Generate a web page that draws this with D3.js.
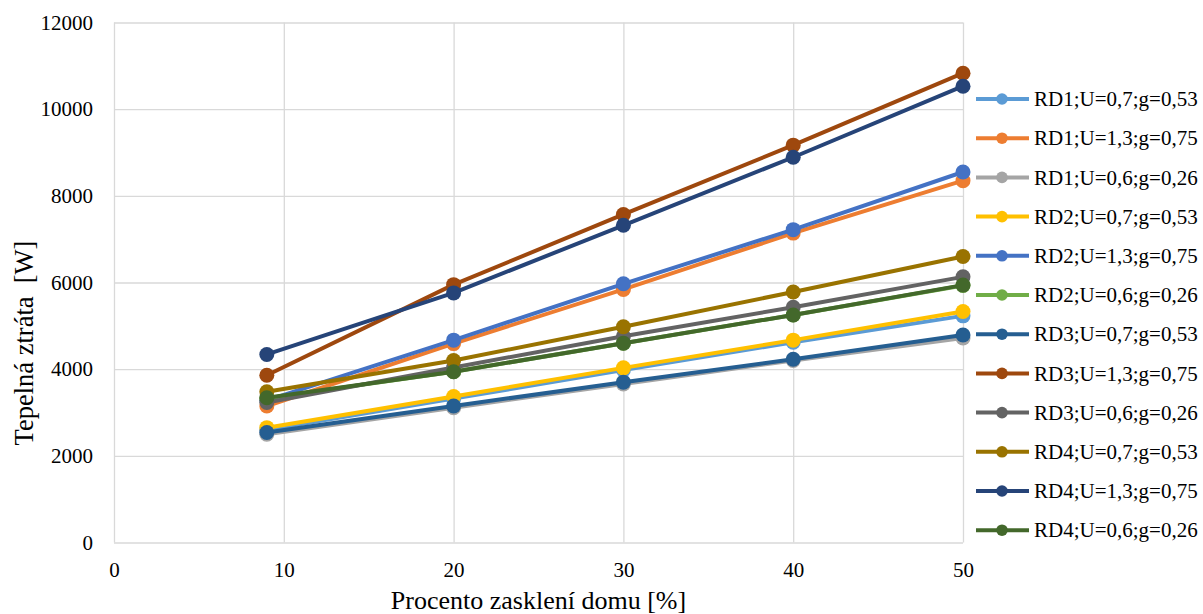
<!DOCTYPE html>
<html>
<head>
<meta charset="utf-8">
<script src="https://cdn.jsdelivr.net/npm/d3@7/dist/d3.min.js"></script>
<style>
  html, body { margin: 0; padding: 0; background: #ffffff; }
  svg { display: block; }
</style>
</head>
<body>
<svg id="chart" width="1203" height="614"></svg>
<script>
// Glazing percentage of the house (x axis)
const glazing = [9, 20, 30, 40, 50];

// Series names, in drawing order
const seriesNames = [
  "RD1;U=0,7;g=0,53", "RD1;U=1,3;g=0,75", "RD1;U=0,6;g=0,26",
  "RD2;U=0,7;g=0,53", "RD2;U=1,3;g=0,75", "RD2;U=0,6;g=0,26",
  "RD3;U=0,7;g=0,53", "RD3;U=1,3;g=0,75", "RD3;U=0,6;g=0,26",
  "RD4;U=0,7;g=0,53", "RD4;U=1,3;g=0,75", "RD4;U=0,6;g=0,26"
];

// Heat loss [W] per series at each glazing level
const rd1_07 = [2600, 3320, 3980, 4620, 5230];
const rd1_13 = [3150, 4590, 5840, 7140, 8350];
const rd1_06 = [2500, 3110, 3660, 4200, 4720];
const rd2_07 = [2650, 3370, 4030, 4670, 5330];
const rd2_13 = [3280, 4670, 5970, 7220, 8550];
const rd2_06 = [3330, 3940, 4600, 5250, 5930];
const rd3_07 = [2540, 3150, 3700, 4230, 4790];
const rd3_13 = [3860, 5950, 7570, 9170, 10830];
const rd3_06 = [3230, 4040, 4760, 5430, 6130];
const rd4_07 = [3480, 4200, 4980, 5780, 6600];
const rd4_13 = [4340, 5760, 7320, 8890, 10530];
const rd4_06 = [3340, 3940, 4600, 5250, 5940];

const seriesValues = [rd1_07, rd1_13, rd1_06, rd2_07, rd2_13, rd2_06,
                      rd3_07, rd3_13, rd3_06, rd4_07, rd4_13, rd4_06];

const seriesColors = [
  "#5B9BD5", "#ED7D31", "#A5A5A5",
  "#FFC000", "#4472C4", "#70AD47",
  "#255E91", "#9E480E", "#636363",
  "#997300", "#264478", "#43682B"
];

const xTicks = [0, 10, 20, 30, 40, 50];
const yTicks = [0, 2000, 4000, 6000, 8000, 10000, 12000];

const xTitle = "Procento zasklení domu [%]";
const yTitle = "Tepelná ztráta  [W]";

// ---- layout ----
const plot = { left: 114, right: 963, top: 22.5, bottom: 542.5 };
const gridColor = "#d9d9d9";
const serif = '"Liberation Serif", "Times New Roman", Times, serif';

const svg = d3.select("#chart");

const x = d3.scaleLinear().domain([0, 50]).range([plot.left, plot.right]);
const y = d3.scaleLinear().domain([0, 12000]).range([plot.bottom, plot.top]);

// y axis with horizontal gridlines
const yAxis = svg.append("g")
  .attr("transform", `translate(${plot.left},0)`)
  .call(d3.axisLeft(y).tickValues(yTicks).tickFormat(d3.format("d"))
    .tickSize(-(plot.right - plot.left)).tickPadding(21));
yAxis.select(".domain").remove();
yAxis.selectAll("line").attr("stroke", gridColor).attr("stroke-width", 1.3);
yAxis.selectAll("text")
  .style("font-family", serif).style("font-size", "21px").attr("fill", "#000");

// x axis with vertical gridlines
const xAxis = svg.append("g")
  .attr("transform", `translate(0,${plot.bottom})`)
  .call(d3.axisBottom(x).tickValues(xTicks).tickFormat(d3.format("d"))
    .tickSize(-(plot.bottom - plot.top)).tickPadding(20));
xAxis.select(".domain").remove();
xAxis.selectAll("line").attr("stroke", gridColor).attr("stroke-width", 1.3);
xAxis.selectAll("text")
  .style("font-family", serif).style("font-size", "21px").attr("fill", "#000");

// axis titles
svg.append("text")
  .attr("x", (plot.left + plot.right) / 2)
  .attr("y", 609)
  .attr("text-anchor", "middle")
  .style("font-family", serif)
  .style("font-size", "26px")
  .attr("fill", "#000")
  .text(xTitle);

svg.append("text")
  .attr("transform", `translate(33,343) rotate(-90)`)
  .attr("text-anchor", "middle")
  .style("font-family", serif)
  .style("font-size", "26.5px")
  .style("white-space", "pre")
  .attr("fill", "#000")
  .text(yTitle);

// ---- series: line then markers, one series at a time ----
const line = d3.line()
  .x((d, i) => x(glazing[i]))
  .y(d => y(d));

seriesValues.forEach((vals, si) => {
  const g = svg.append("g").attr("class", "series");
  g.append("path")
    .datum(vals)
    .attr("d", line)
    .attr("fill", "none")
    .attr("stroke", seriesColors[si])
    .attr("stroke-width", 4)
    .attr("stroke-linejoin", "round");
  g.selectAll("circle")
    .data(vals)
    .join("circle")
    .attr("cx", (d, i) => x(glazing[i]))
    .attr("cy", d => y(d))
    .attr("r", 7.5)
    .attr("fill", seriesColors[si]);
});

// ---- legend ----
const legend = svg.append("g").attr("class", "legend");
const legendTop = 99, legendStep = 39.2;
seriesNames.forEach((name, i) => {
  const cy = legendTop + i * legendStep;
  const item = legend.append("g").attr("transform", `translate(0,${cy})`);
  item.append("line")
    .attr("x1", 976).attr("x2", 1029)
    .attr("y1", 0).attr("y2", 0)
    .attr("stroke", seriesColors[i])
    .attr("stroke-width", 4);
  item.append("circle")
    .attr("cx", 1002).attr("cy", 0).attr("r", 5.8)
    .attr("fill", seriesColors[i]);
  item.append("text")
    .attr("x", 1034).attr("y", 0).attr("dy", "0.34em")
    .style("font-family", serif)
    .style("font-size", "21px")
    .attr("fill", "#000")
    .text(name);
});
</script>
</body>
</html>
